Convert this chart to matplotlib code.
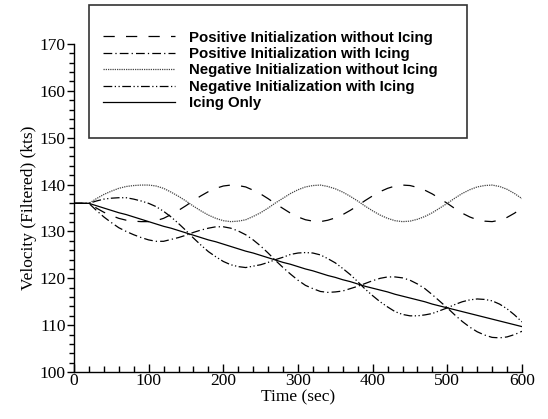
import numpy as np
import matplotlib.pyplot as plt
from matplotlib.patches import Rectangle
from matplotlib.ticker import MultipleLocator

# Time axis (sec), sampled every 10 s
time_sec = list(range(0, 601, 10))

# Velocity readings (kts)
pos_no_icing = [136.0, 136.0, 136.0, 135.0, 134.1, 133.4, 132.8, 132.4, 132.2, 132.1,
                132.1, 132.3, 132.8, 133.6, 134.5, 135.5, 136.6, 137.6, 138.5, 139.2,
                139.7, 139.9, 139.8, 139.5, 138.8, 138.0, 137.0, 135.9, 134.9, 133.9,
                133.1, 132.5, 132.2, 132.1, 132.4, 132.9, 133.6, 134.5, 135.5, 136.6,
                137.6, 138.5, 139.2, 139.7, 139.9, 139.8, 139.4, 138.8, 138.0, 137.0,
                136.0, 134.9, 133.9, 133.1, 132.5, 132.2, 132.1, 132.4, 133.0, 133.9,
                135.0]
pos_icing = [136.0, 136.0, 136.0, 134.5, 133.1, 131.9, 130.8, 130.0, 129.3, 128.7,
             128.2, 127.9, 127.9, 128.3, 128.7, 129.2, 129.8, 130.3, 130.7, 131.0,
             131.0, 130.7, 130.1, 129.3, 128.2, 126.9, 125.4, 123.8, 122.3, 120.9,
             119.6, 118.5, 117.8, 117.2, 117.0, 117.1, 117.3, 117.8, 118.3, 118.9,
             119.5, 120.0, 120.3, 120.3, 120.1, 119.6, 118.8, 117.8, 116.5, 115.1,
             113.7, 112.2, 110.8, 109.6, 108.6, 107.9, 107.4, 107.3, 107.5, 108.0,
             108.7]
neg_no_icing = [136.0, 136.0, 136.0, 137.0, 137.9, 138.6, 139.2, 139.6, 139.8, 139.9,
                139.9, 139.7, 139.2, 138.4, 137.5, 136.5, 135.4, 134.4, 133.5, 132.8,
                132.3, 132.1, 132.2, 132.5, 133.2, 134.0, 135.0, 136.1, 137.1, 138.1,
                138.9, 139.5, 139.8, 139.9, 139.6, 139.1, 138.4, 137.5, 136.5, 135.4,
                134.4, 133.5, 132.8, 132.3, 132.1, 132.2, 132.6, 133.2, 134.0, 135.0,
                136.0, 137.1, 138.1, 138.9, 139.5, 139.8, 139.9, 139.6, 139.0, 138.1,
                137.0]
neg_icing = [136.0, 136.0, 136.0, 136.5, 136.9, 137.1, 137.2, 137.2, 136.9, 136.5,
             136.0, 135.3, 134.3, 133.1, 131.7, 130.2, 128.6, 127.1, 125.7, 124.6,
             123.6, 122.9, 122.5, 122.3, 122.6, 122.9, 123.4, 124.0, 124.5, 125.1,
             125.4, 125.5, 125.4, 125.0, 124.2, 123.3, 122.1, 120.8, 119.3, 117.7,
             116.3, 115.0, 113.9, 112.9, 112.3, 112.0, 112.0, 112.2, 112.5, 113.1,
             113.7, 114.4, 115.0, 115.4, 115.6, 115.5, 115.2, 114.5, 113.5, 112.2,
             110.7]
icing_only = [136.0, 136.0, 136.0, 135.5, 135.0, 134.5, 134.0, 133.6, 133.1, 132.6,
              132.1, 131.6, 131.1, 130.7, 130.2, 129.7, 129.2, 128.7, 128.2, 127.8,
              127.3, 126.8, 126.3, 125.8, 125.4, 124.9, 124.4, 123.9, 123.4, 123.0,
              122.5, 122.0, 121.6, 121.1, 120.6, 120.2, 119.7, 119.3, 118.8, 118.3,
              117.9, 117.5, 117.1, 116.6, 116.2, 115.8, 115.4, 115.0, 114.5, 114.1,
              113.7, 113.3, 112.9, 112.5, 112.1, 111.7, 111.3, 110.9, 110.5, 110.1,
              109.7]

labels = ['Positive Initialization without Icing',
          'Positive Initialization with Icing',
          'Negative Initialization without Icing',
          'Negative Initialization with Icing',
          'Icing Only']

serif = ['Liberation Serif', 'DejaVu Serif']

fig = plt.figure(figsize=(5.48, 4.19), dpi=100)
ax = fig.add_axes([0.135, 0.112, 0.8175, 0.783])

lw = 0.9
h1, = ax.plot(time_sec, pos_no_icing, color='black', lw=lw, dashes=(9, 9))
h2, = ax.plot(time_sec, pos_icing, color='black', lw=lw, dashes=(7, 2.5, 1, 2.5))
h3, = ax.plot(time_sec, neg_no_icing, color='#444444', lw=lw, dashes=(1, 0.8))
h4, = ax.plot(time_sec, neg_icing, color='black', lw=lw, dashes=(7, 2, 1, 2, 1, 2))
h5, = ax.plot(time_sec, icing_only, color='black', lw=lw)

ax.set_xlim(0, 600)
ax.set_ylim(100, 170)
ax.xaxis.set_major_locator(MultipleLocator(100))
ax.xaxis.set_minor_locator(MultipleLocator(20))
ax.yaxis.set_major_locator(MultipleLocator(10))
ax.yaxis.set_minor_locator(MultipleLocator(2))

for s in ['top', 'right']:
    ax.spines[s].set_visible(False)
for s in ['left', 'bottom']:
    ax.spines[s].set_linewidth(1.0)

ax.tick_params(axis='x', which='major', direction='in', length=6, width=1, pad=1)
ax.tick_params(axis='x', which='minor', direction='in', length=4, width=1)
ax.tick_params(axis='y', which='major', direction='out', length=5, width=1, pad=1)
ax.tick_params(axis='y', which='minor', direction='out', length=3.5, width=1)
for lab in ax.get_xticklabels() + ax.get_yticklabels():
    lab.set_family(serif)
    lab.set_fontsize(12.5)

ax.set_xlabel('Time (sec)', family=serif, fontsize=12.5, labelpad=0)
ax.set_ylabel('Velocity (Filtered) (kts)', family=serif, fontsize=12.5, labelpad=2)

# legend box drawn as a plain rectangle in figure coordinates
fig.patches.append(Rectangle((0.1624, 0.6706), 0.690, 0.3174, transform=fig.transFigure,
                             facecolor='white', edgecolor='#333333', lw=1.2, zorder=3))
leg = fig.legend([h1, h2, h3, h4, h5], labels, loc='upper left',
                 bbox_to_anchor=(0.188, 0.927), frameon=False,
                 prop={'family': ['Liberation Sans', 'DejaVu Sans'], 'weight': 'bold', 'size': 10.8},
                 handlelength=4.8, handletextpad=0.95, labelspacing=0.16,
                 borderpad=0, borderaxespad=0)
leg.set_zorder(4)

fig.savefig('out.png', dpi=100)
